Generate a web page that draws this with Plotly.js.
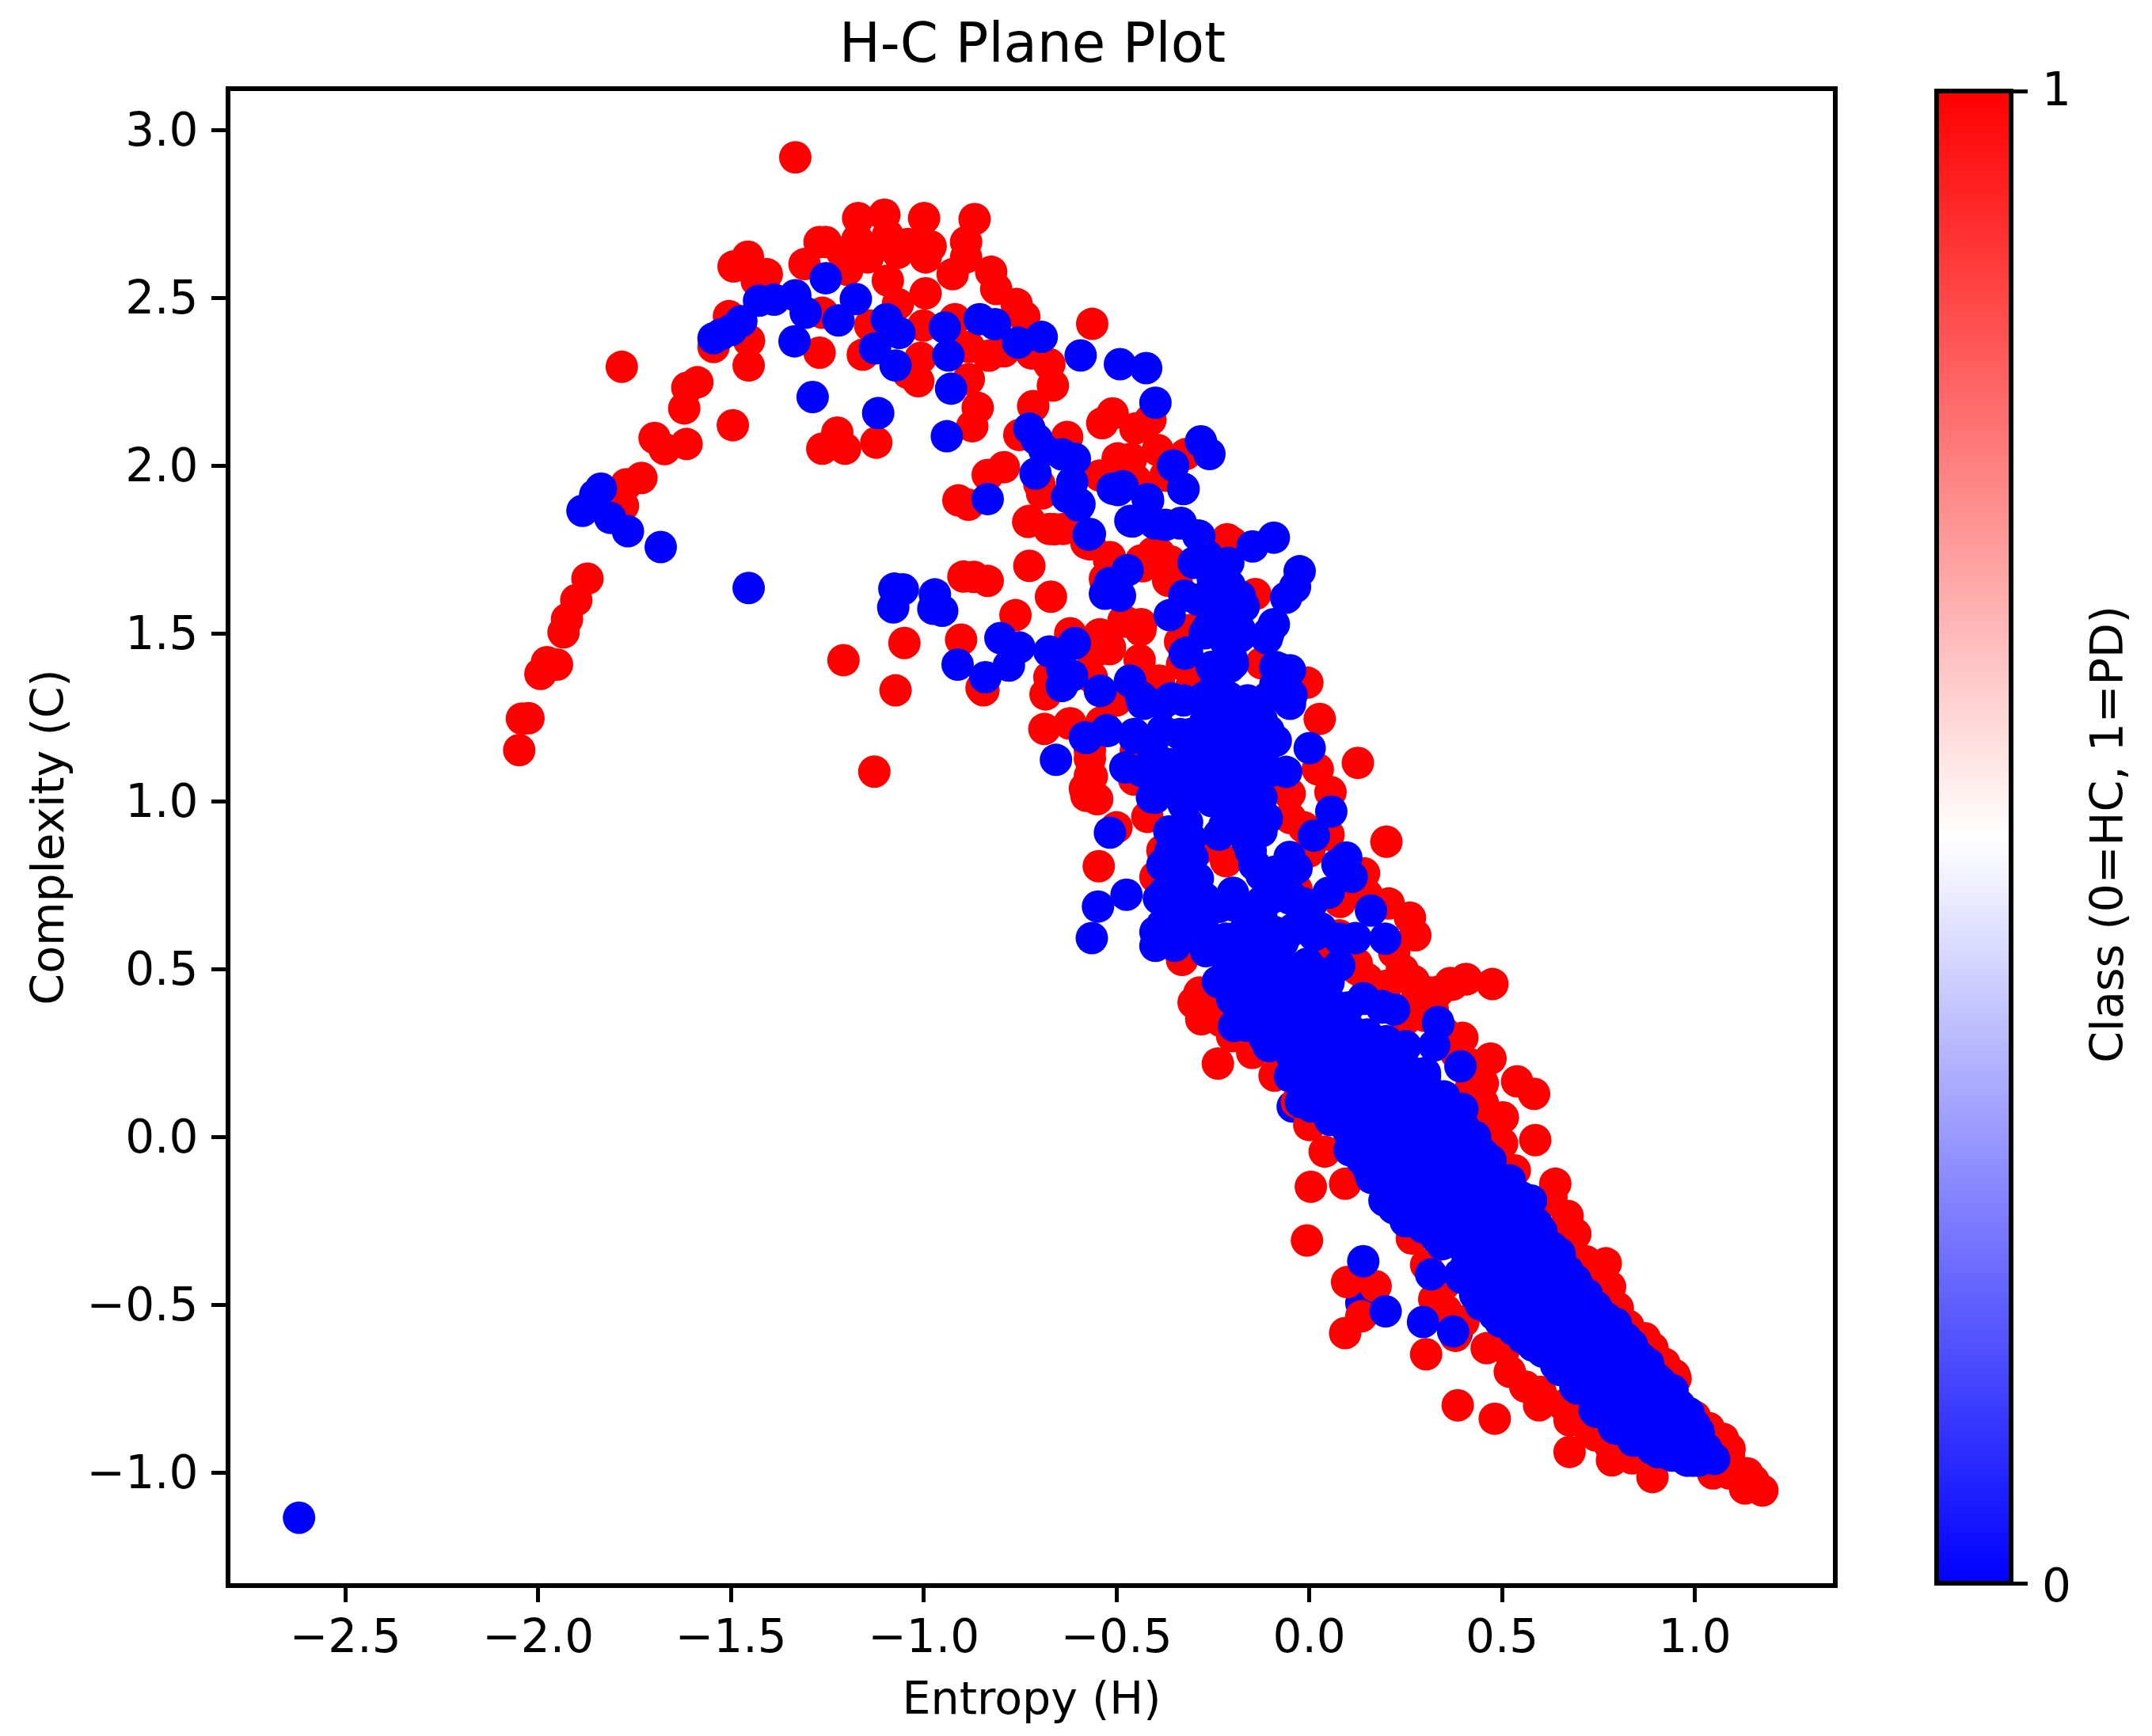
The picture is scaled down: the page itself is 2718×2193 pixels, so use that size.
<!DOCTYPE html>
<html>
<head>
<meta charset="utf-8">
<script src="https://cdn.plot.ly/plotly-3.0.1.min.js"></script>
<style>html,body{margin:0;padding:0;background:#fff}</style>
</head>
<body>
<div id="chart" style="width:2718px;height:2193px"></div>
<script>
// [Entropy H, Complexity C], drawn in this order
const underBluePoints = [[.135,-.495],[.382,-.586],[-.043,.09]];

const redPoints = [
[-1.333,2.918],[-1.170,2.737],[-1.102,2.747],[-.999,2.737],[-.868,2.734],[-.890,2.666],[-.890,2.62],[-.925,2.57],
[-1.270,2.666],[-1.254,2.666],[-1.172,2.673],[-1.093,2.685],[-1.041,2.66],[-.982,2.653],[-.995,2.62],[-1.067,2.634],
[-1.145,2.62],[-1.211,2.634],[-1.309,2.60],[-1.198,2.583],[-1.093,2.551],[-1.456,2.622],[-1.493,2.593],[-1.407,2.57],
[-1.433,2.55],[-.825,2.577],[-.812,2.526],[-.995,2.513],[-1.067,2.481],[-.759,2.481],[-.739,2.443],[-.919,2.436],
[-1.263,2.455],[-1.505,2.445],[-1.453,2.372],[-1.545,2.353],[-1.454,2.298],[-1.270,2.336],[-1.158,2.330],[-1.008,2.321],
[-1.014,2.251],[-1.041,2.276],[-1.139,2.417],[-1.001,2.417],[-.883,2.353],[-.831,2.327],[-.792,2.34],[-.72,2.334],
[-.674,2.302],[-.665,2.238],[-.883,2.257],[-.563,2.422],[-1.783,2.294],[-1.587,2.248],[-1.613,2.232],[-1.621,2.17],
[-1.495,2.12],[-1.698,2.082],[-1.672,2.049],[-1.615,2.064],[-1.732,1.963],[-1.771,1.944],[-1.78,1.88],[-1.224,2.098],
[-1.263,2.05],[-1.204,2.05],[-1.123,2.068],[-.86,2.172],[-.874,2.117],[-.716,2.177],[-.752,2.091],[-.628,2.085],
[-.792,1.995],[-.834,1.972],[-.91,1.896],[-.884,1.883],[-.726,1.835],[-.661,1.81],[-.70,1.944],[-.569,1.765],
[-.51,2.155],[-.537,2.126],[-.451,2.11],[-.412,2.136],[-.393,2.046],[-.497,2.021],[-.462,2.02],[-.451,1.957],
[-.373,1.97],[-.32,2.034],[-.543,1.97],[-.517,1.727],[-.405,1.74],[-.36,1.714],[-.366,1.657],[-.432,1.70],
[-.53,1.663],[-.2,1.77],[-1.872,1.663],[-1.901,1.599],[-1.925,1.542],[-1.934,1.503],[-1.977,1.414],[-1.951,1.407],
[-1.994,1.379],[-2.025,1.247],[-2.042,1.246],[-2.049,1.152],[-.897,1.669],[-.87,1.668],[-.834,1.656],[-.726,1.701],
[-.67,1.609],[-.762,1.554],[-1.05,1.471],[-1.208,1.42],[-1.073,1.33],[-.903,1.481],[-.62,1.50],[-.543,1.497],
[-.517,1.458],[-.438,1.51],[-.477,1.535],[-.556,1.446],[-.85,1.337],[-.845,1.33],[-.674,1.369],[-.684,1.318],
[-.687,1.215],[-.622,1.231],[-.539,1.235],[-.393,1.356],[-.33,1.407],[-.569,1.152],[-.569,1.075],[-.582,1.037],
[-1.128,1.088],[-.307,1.51],
[-.693,1.917],[-.729,1.832],[-.674,1.811],[-.638,1.811],[-.578,1.769],[-.519,1.717],[-.39,1.738],[-.363,1.695],
[-.528,1.653],[-.436,1.717],[-.344,1.653],[-.213,1.78],[-.14,1.617],[-.619,1.495],[-.546,1.495],[-.436,1.527],
[-.482,1.537],[-.518,1.453],[-.564,1.443],[-.335,1.475],[-.846,1.332],[-.39,1.359],[-.307,1.338],[-.564,1.369],
[-.005,1.353],[.027,1.245],[-.619,1.232],[-.537,1.232],[-.124,1.411],[-.569,1.127],[-.564,1.074],[-.578,1.016],
[-.55,1.006],[-.454,1.064],[.126,1.114],[.022,1.095],[-.051,1.022],[.055,1.027],[-.097,1.074],[-.5,.922],
[-.42,.953],[-.546,.806],[-.381,.853],[-.399,.774],[-.216,.821],[-.289,.853],[-.014,.922],[-.033,.737],
[.2,.879],[.142,.785],[.206,.695],[.261,.653],[.275,.6],[.078,.6],[.032,.548],[.123,.516],
[.243,.495],[.279,.442],[.334,.432],[.371,.453],[.408,.469],[.475,.455],[-.33,.527],[-.285,.427],
[-.234,.369],
[.406,.47],[.366,.458],[.313,.43],[.271,.464],[.24,.498],[.125,.498],[.272,.396],
[.397,.295],[.47,.233],[.539,.165],[.583,.128],[.502,.058],[.481,.024],[.586,-.01],[.45,.159],[.418,.216],
[.533,-.1],[.491,-.078],[.638,-.14],[.628,-.179],[.67,-.236],[.69,-.29],[.769,-.377],[.78,-.447],[.717,-.371],
[.827,-.563],[.848,-.597],[.89,-.63],[.921,-.676],[.947,-.71],[1.0,-.834],[1.036,-.868],[1.073,-.9],[1.089,-.958],
[1.136,-1.003],[1.152,-1.025],[1.175,-1.054],[1.13,-1.048],[1.089,-1.003],[.89,-1.014],[.785,-.964],[.675,-.939],
[.481,-.84],[.385,-.80],[.303,-.648],[.093,-.585],[.135,-.535],[.098,-.433],[.172,-.445],[-.006,-.309],
[.004,-.149],[.093,-.14],[-.237,.218],[-.284,.43],[-.229,.345],[-.148,.25],[-.09,.182],[-.032,.103],
[.0,.035],[.04,-.044],[.266,-.303],[.303,-.382],[.324,-.484],[.355,-.518],[.507,-.63],[.56,-.744],
[.596,-.8],[.675,-.845],[.743,-.89],[.837,-.958],[1.047,-1.003],[.379,-.593],
[.25,.35],[.3,.36],[.35,.31],[.38,.25],[.42,.15],[.45,.1],[.42,.05],[.5,-.02],[.45,-.02],[.2,.45],[.15,.47],[.32,.38],
[.35,-.44],[.4,-.55],[.46,-.63],[.52,-.7],[.6,-.76],[.66,-.8],[.72,-.86],[.78,-.92],
[.6,-.2],[.66,-.28],[.74,-.42],[.8,-.51],[.87,-.6],[.95,-.72],[1.09,-.93],
[-.45,1.15],[-.5,1.3],[-.44,1.42],[-.3,.4],[-.28,.35],[-.2,.3],[.0,.85],[.05,.9],[-.05,.95],[.08,.7],[.15,.72],[.22,.55]
];

const bluePoints = [
[-2.62,-1.135],[-1.254,2.558],[-1.176,2.496],[-1.221,2.432],[-1.306,2.455],[-1.333,2.507],[-1.388,2.494],[-1.427,2.491],
[-1.473,2.43],[-1.499,2.404],[-1.525,2.391],[-1.545,2.379],[-1.335,2.37],[-1.096,2.436],[-1.063,2.395],[-1.126,2.349],
[-1.073,2.298],[-.945,2.411],[-.936,2.328],[-.929,2.229],[-.855,2.436],[-.815,2.421],[-.755,2.366],[-.694,2.383],
[-.593,2.328],[-.491,2.302],[-.423,2.29],[-.399,2.187],[-1.288,2.204],[-1.118,2.156],[-.94,2.087],[-.726,2.11],
[-.707,2.078],[-.71,1.976],[-.687,2.046],[-.641,2.033],[-.608,2.02],[-.615,1.95],[-.628,1.906],[-.598,1.88],
[-.281,2.072],[-.259,2.034],[-.353,2.0],[-.327,1.931],[-.51,1.931],[-.484,1.938],[-.419,1.9],[-.464,1.835],
[-.373,1.823],[-.333,1.829],[-.288,1.791],[-.834,1.9],[-.572,1.794],[-1.837,1.931],[-1.852,1.912],[-1.885,1.865],
[-1.813,1.844],[-1.767,1.804],[-1.682,1.757],[-1.454,1.635],[-1.076,1.633],[-1.054,1.631],[-1.079,1.577],[-.971,1.616],
[-.975,1.573],[-.952,1.567],[-.471,1.688],[-.517,1.65],[-.53,1.618],[-.491,1.612],[-.324,1.612],[-.362,1.554],
[-.323,1.439],[-.801,1.486],[-.752,1.458],[-.779,1.404],[-.912,1.407],[-.84,1.369],[-.674,1.446],[-.641,1.395],
[-.608,1.471],[-.641,1.344],[-.543,1.328],[-.464,1.356],[-.36,1.305],[-.432,1.292],[-.255,1.305],[-.582,1.19],
[-.523,1.209],[-.657,1.123],[-.477,1.1],
[-.619,1.917],[-.596,1.885],[-.496,1.927],[-.418,1.896],[-.326,1.93],[-.569,1.796],[-.459,1.833],[-.4,1.827],
[-.335,1.827],[-.285,1.79],[-.266,1.732],[-.147,1.759],[-.092,1.785],[-.025,1.685],[-.037,1.638],[-.06,1.606],
[-.234,1.643],[-.207,1.643],[-.17,1.58],[-.262,1.517],[-.207,1.527],[-.092,1.527],[-.11,1.485],[-.317,1.443],
[-.216,1.474],[-.207,1.4],[-.61,1.469],[-.615,1.374],[-.642,1.343],[-.541,1.329],[-.465,1.359],[-.429,1.29],
[-.358,1.306],[-.253,1.3],[-.078,1.395],[-.046,1.316],[-.088,1.348],[-.578,1.188],[-.525,1.211],[-.454,1.2],
[-.408,1.158],[-.335,1.2],[-.271,1.232],[-.198,1.295],[-.124,1.243],[-.17,1.18],[-.087,1.18],[.001,1.158],
[-.06,1.087],[-.271,1.127],[-.335,1.106],[-.216,1.074],[-.381,1.053],[-.408,1.011],[-.344,1.022],[-.253,1.043],
[-.198,1.022],[-.152,1.0],[-.11,.948],[-.22,.927],[-.161,.927],[-.317,.937],[-.349,.895],[-.303,.832],
[-.372,.811],[-.289,.769],[-.376,.727],[-.326,.716],[-.381,.632],[-.399,.569],[-.349,.569],[-.268,.553],
[-.517,.906],[-.548,.686],[-.474,.721],[-.564,.592],[-.152,.853],[-.051,.834],[-.124,.78],[-.198,.727],
[-.234,.685],[.057,.969],[.012,.897],[.073,.811],[.096,.832],[.11,.774],[.05,.727],[.16,.674],
[-.014,.695],[.03,.621],[.12,.592],[.197,.59],[-.124,.653],[-.069,.579],[-.152,.516],[-.216,.59],
[-.005,.516],[.05,.474],[-.234,.46],[-.106,.453],[-.033,.421],[-.161,.405],[.142,.411],[.188,.39],
[.22,.379],[.334,.342],[.06,.379],[-.051,.358],
[-.3,1.16],[-.25,1.19],[-.2,1.21],[-.15,1.26],[-.24,1.1],[-.19,1.11],[-.14,1.14],[-.1,1.09],[-.29,1.06],[-.21,1.31],
[-.24,1.36],[-.2,1.42],[-.22,1.56],[-.25,1.66],[-.21,1.71],[-.23,1.6],[-.18,1.49],[-.33,.9],[-.35,.76],[-.33,.64],
[-.37,.61],[-.3,.68],[-.36,.85],[-.1,.71],[-.05,.72],[-.16,.64],[-.21,.51],[-.16,.56],[-.09,.61],[-.04,.62],
[-.3,1.71],[-.289,1.6],[-.18,1.61],[-.271,1.5],[-.18,1.51],[-.106,1.5],[-.253,1.4],[-.198,1.41],[-.088,1.4],[-.05,1.39],
[-.436,1.31],[-.381,1.29],[-.326,1.3],[-.271,1.31],[-.216,1.29],[-.16,1.3],[-.106,1.31],[-.05,1.29],
[-.454,1.19],[-.381,1.21],[-.308,1.2],[-.234,1.22],[-.161,1.19],[-.106,1.21],
[-.436,1.09],[-.363,1.11],[-.289,1.1],[-.216,1.12],[-.161,1.09],
[-.4,1.01],[-.326,.99],[-.253,1.0],[-.198,.98],[-.124,1.01],
[-.363,.91],[-.308,.89],[-.234,.9],[-.161,.88],[-.124,.91],
[-.381,.81],[-.326,.79],[-.142,.81],[-.088,.79],[-.033,.8],
[-.39,.71],[-.335,.69],[-.271,.71],[-.198,.69],[-.124,.7],[-.051,.71],[.004,.69],
[-.399,.61],[-.344,.59],[-.271,.61],[-.179,.6],[-.106,.59],[-.051,.61],[.013,.6],[.078,.59],
[-.198,.5],[-.142,.49],[-.088,.51],[-.033,.5],[.022,.49],[.078,.51],
[.14,-.371],[.198,-.52],[.295,-.552],[.373,-.58],[.316,-.41],[-.237,.462],[.335,.336],[.324,.272],[.392,.21],[.397,.083],
[-.022,.103],[-.163,.407],[-.163,.331],[-.116,.295],[.14,.413],[.188,.385],[.041,.47],[.135,-.066],[.162,-.123],
[.219,-.213],[.25,-.252],[.575,-.19],[.602,-.281],[.649,-.348],[.69,-.427],[.743,-.506],[.795,-.557],[.837,-.62],
[.879,-.676],[.942,-.755],[.984,-.823],[1.01,-.965],[1.047,-.958],[.994,-.96],
[-.2,.41],[-.195,.33],[-.15,.46],[-.14,.38],[-.105,.47],[-.1,.405],[-.09,.34],[-.105,.27],
[-.05,.485],[-.045,.42],[-.055,.36],[-.05,.3],[-.045,.24],[-.05,.18],
[.0,.5],[.005,.44],[-.005,.38],[.0,.32],[.005,.26],[-.005,.2],[.0,.14],[.005,.09],
[.05,.46],[.055,.4],[.045,.34],[.05,.28],[.055,.22],[.045,.16],[.05,.1],[.055,.05],
[.1,.385],[.105,.32],[.095,.26],[.1,.2],[.105,.14],[.095,.08],[.1,.02],[.105,-.04],
[.15,.305],[.155,.24],[.145,.18],[.15,.12],[.155,.06],[.145,.0],[.15,-.06],[.155,-.1],
[.2,.285],[.205,.22],[.195,.16],[.2,.1],[.205,.04],[.195,-.02],[.2,-.08],[.205,-.14],[.195,-.19],
[.25,.27],[.255,.2],[.245,.14],[.25,.08],[.255,.02],[.245,-.04],[.25,-.1],[.255,-.16],[.245,-.22],
[.3,.18],[.305,.12],[.295,.06],[.3,.0],[.305,-.06],[.295,-.12],[.3,-.18],[.305,-.24],[.295,-.27],
[.35,.12],[.355,.06],[.345,.0],[.35,-.06],[.355,-.12],[.345,-.18],[.35,-.24],[.355,-.3],[.345,-.32],
[.4,.03],[.405,-.03],[.395,-.09],[.4,-.15],[.405,-.21],[.395,-.27],[.4,-.33],[.405,-.39],[.395,-.42],
[.45,-.05],[.455,-.11],[.445,-.17],[.45,-.23],[.455,-.29],[.445,-.35],[.45,-.41],[.455,-.47],[.445,-.5],
[.5,-.13],[.505,-.19],[.495,-.25],[.5,-.31],[.505,-.37],[.495,-.43],[.5,-.49],[.505,-.55],[.495,-.55],
[.55,-.18],[.555,-.24],[.545,-.3],[.55,-.36],[.555,-.42],[.545,-.48],[.55,-.54],[.555,-.6],
[.6,-.29],[.605,-.35],[.595,-.41],[.6,-.47],[.605,-.53],[.595,-.59],[.6,-.63],[.605,-.64],
[.65,-.36],[.655,-.42],[.645,-.48],[.65,-.54],[.655,-.6],[.645,-.66],[.65,-.695],
[.7,-.45],[.705,-.51],[.695,-.57],[.7,-.63],[.705,-.69],[.695,-.75],
[.75,-.52],[.755,-.58],[.745,-.64],[.75,-.7],[.755,-.76],[.745,-.82],
[.8,-.58],[.805,-.64],[.795,-.7],[.8,-.76],[.805,-.82],[.795,-.87],
[.85,-.65],[.855,-.71],[.845,-.77],[.85,-.83],[.855,-.89],[.845,-.905],
[.9,-.72],[.905,-.78],[.895,-.84],[.9,-.9],[.905,-.94],
[.95,-.8],[.955,-.86],[.945,-.92],[.95,-.95],
[1.0,-.86],[1.005,-.92],[.995,-.965],[1.05,-.96],
[.3,.19],[.34,.12],[.38,.07],[.43,.0],[.47,-.07],[.52,-.13],[.56,-.2],[.59,-.26],[.63,-.33],[.67,-.4],[.72,-.47],[.77,-.54],
[.82,-.6],[.86,-.66],[.91,-.73],[.96,-.8],[1.01,-.88],[1.03,-.93],
[.26,-.235],[.33,-.3],[.39,-.41],[.43,-.47],[.48,-.53],[.53,-.575],[.58,-.622],[.64,-.68],[.69,-.745],[.74,-.815],[.79,-.865],
[.84,-.905],[.89,-.93],[.94,-.95],[.98,-.965]
];

const xTicks = [-2.5,-2,-1.5,-1,-.5,0,.5,1];
const yTicks = [-1,-.5,0,.5,1,1.5,2,2.5,3];
const classTicks = [0,1];
const bwrScale = [[0,'#0000ff'],[0.5,'#ffffff'],[1,'#ff0000']];

const font = 'DejaVu Sans, sans-serif';
const labelFont = {family:font,size:58,color:'#000'};
const titleFont = {family:font,size:57,color:'#000'};
function classTrace(points, cls, showScale){
  return {
    type:'scatter', mode:'markers',
    x:points.map(p=>p[0]), y:points.map(p=>p[1]),
    hoverinfo:'skip', showlegend:false,
    marker:{
      size:41, line:{width:0},
      color:points.map(()=>cls), colorscale:bwrScale, cmin:0, cmax:1,
      showscale:showScale,
      colorbar: showScale ? {
        x:1.0647, xanchor:'left', xpad:0, y:0, yanchor:'bottom', ypad:0, len:1, lenmode:'fraction',
        thickness:94, thicknessmode:'pixels',
        outlinewidth:6, outlinecolor:'#000', borderwidth:0,
        tickmode:'array', tickvals:classTicks, showticklabels:false,
        ticks:'outside', ticklen:18, tickwidth:5, tickcolor:'#000'
      } : undefined
    }
  };
}

const axisBase = {
  showgrid:false, zeroline:false, showline:true, mirror:true, linecolor:'#000', linewidth:6,
  ticks:'outside', ticklen:18, tickwidth:5, tickcolor:'#000', tickmode:'array', tickformat:'.1f',
  tickfont:labelFont
};

const classLabels = classTicks.map(v=>({
  text:String(v), xref:'paper', yref:'paper', x:(2577-291)/2024, y:v, yshift:v?2:-3, xanchor:'left', yanchor:'middle',
  showarrow:false, font:labelFont
}));

Plotly.newPlot('chart',
  [classTrace(underBluePoints,0,false), classTrace(redPoints,1,false), classTrace(bluePoints,0,true)],
  {
    width:2718, height:2193, paper_bgcolor:'#fff', plot_bgcolor:'#fff',
    margin:{l:291,r:403,t:115,b:193,pad:0,autoexpand:false},
    title:{text:'H-C Plane Plot', font:{family:font,size:69,color:'#000'}, x:1304/2718, xanchor:'center', y:1-54/2193, yanchor:'middle'},
    xaxis:Object.assign({},axisBase,{range:[-2.798,1.358],tickvals:xTicks,ticklabelstandoff:-7,
      title:{text:'Entropy (H)',font:titleFont,standoff:27}}),
    yaxis:Object.assign({},axisBase,{range:[-1.3302,3.1156],tickvals:yTicks,ticklabelstandoff:5,
      title:{text:'Complexity (C)',font:titleFont,standoff:13}}),
    annotations:classLabels.concat([{
      text:'Class (0=HC, 1=PD)', xref:'paper', yref:'paper', x:(2661-291)/2024, y:.502, xanchor:'center', yanchor:'middle',
      textangle:-90, showarrow:false, font:titleFont
    }])
  },
  {displayModeBar:false, staticPlot:true}
);
</script>
</body>
</html>
